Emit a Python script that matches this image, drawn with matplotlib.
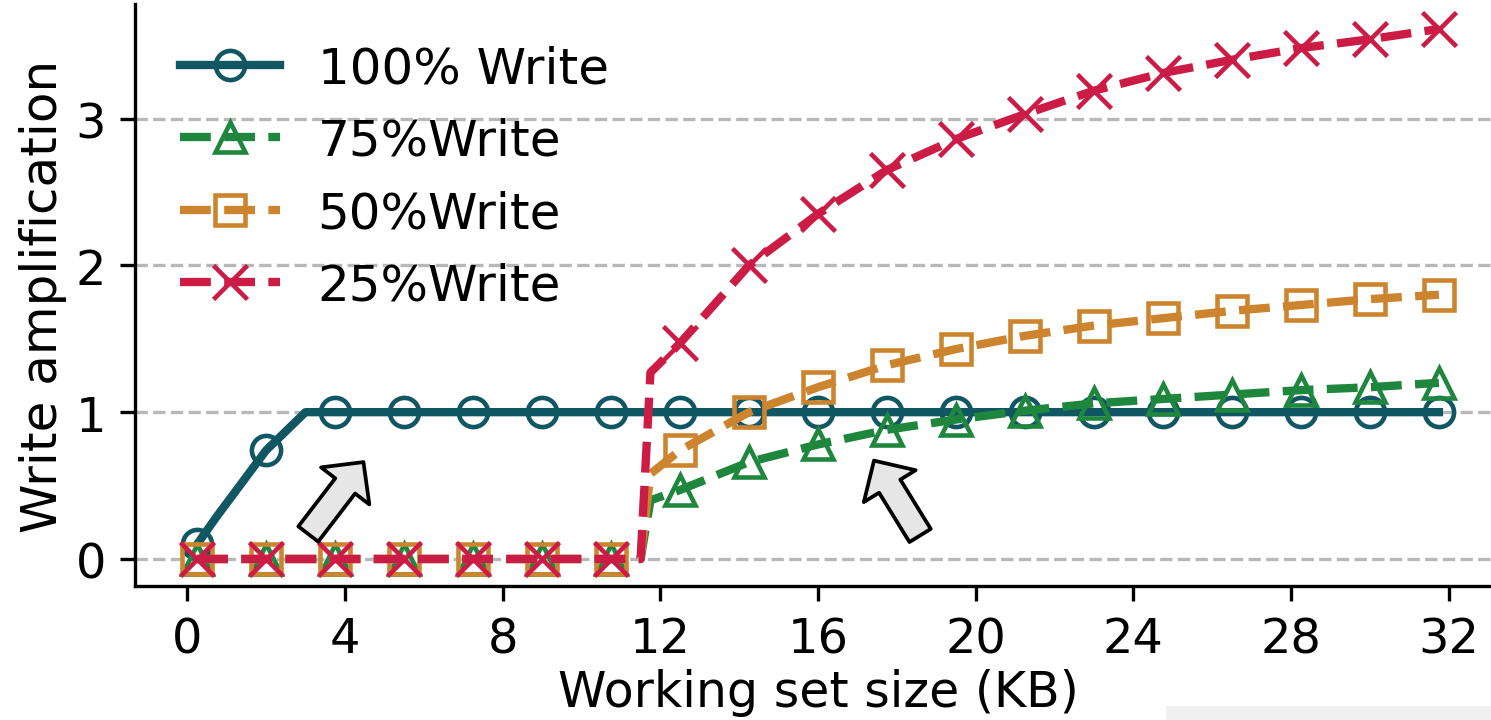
import matplotlib
matplotlib.use("Agg")
import matplotlib.pyplot as plt
from matplotlib.patches import Rectangle

# working set size (KB), sampled every 1.75 KB where markers sit
x_marks = [0.25, 2.0, 3.75, 5.5, 7.25, 9.0, 10.75, 12.5, 14.25, 16.0,
           17.75, 19.5, 21.25, 23.0, 24.75, 26.5, 28.25, 30.0, 31.75]

# 100% write: ramps up then stays flat at 1
x_w100 = [0.25, 0.75, 2.0, 3.0, 3.75, 5.5, 7.25, 9.0, 10.75, 12.5, 14.25, 16.0,
          17.75, 19.5, 21.25, 23.0, 24.75, 26.5, 28.25, 30.0, 31.75]
y_w100 = [0.10, 0.29, 0.74, 1.0, 1.0, 1.0, 1.0, 1.0, 1.0, 1.0, 1.0, 1.0,
          1.0, 1.0, 1.0, 1.0, 1.0, 1.0, 1.0, 1.0, 1.0]

# mixed workloads jump between 11.5 and 11.75 KB
x_mixed = [0.25, 2.0, 3.75, 5.5, 7.25, 9.0, 10.75, 11.5, 11.75, 12.5, 14.25, 16.0,
           17.75, 19.5, 21.25, 23.0, 24.75, 26.5, 28.25, 30.0, 31.75]
y_w75 = [0, 0, 0, 0, 0, 0, 0, 0, 0.40, 0.47, 0.66, 0.78,
         0.88, 0.95, 1.01, 1.06, 1.09, 1.12, 1.15, 1.17, 1.20]
y_w50 = [0, 0, 0, 0, 0, 0, 0, 0, 0.58, 0.74, 1.00, 1.17,
         1.32, 1.43, 1.52, 1.59, 1.64, 1.69, 1.73, 1.77, 1.80]
y_w25 = [0, 0, 0, 0, 0, 0, 0, 0, 1.27, 1.47, 2.00, 2.35,
         2.65, 2.86, 3.03, 3.19, 3.31, 3.40, 3.48, 3.54, 3.61]

labels = ['100% Write', '75%Write', '50%Write', '25%Write']
colors = ['#105663', '#1f873d', '#cc852e', '#cc1c46']


def mark_idx(xs):
    return [i for i, v in enumerate(xs) if v in x_marks]


fig = plt.figure(figsize=(4.97, 2.4033), dpi=300)
ax = fig.add_axes([135 / 1491, 1 - 587 / 721, 1366 / 1491, 582 / 721])

ax.plot(x_w100, y_w100, '-', color=colors[0], lw=2, marker='o', ms=7,
        mfc='none', mew=1.1, markevery=mark_idx(x_w100), label=labels[0])
ax.plot(x_mixed, y_w75, '--', color=colors[1], lw=2, marker='^', ms=7,
        mfc='none', mew=1.1, markevery=mark_idx(x_mixed), label=labels[1])
ax.plot(x_mixed, y_w50, '--', color=colors[2], lw=2, marker='s', ms=7,
        mfc='none', mew=1.1, markevery=mark_idx(x_mixed), label=labels[2])
ax.plot(x_mixed, y_w25, '--', color=colors[3], lw=2, marker='x', ms=8,
        mew=1.1, markevery=mark_idx(x_mixed), label=labels[3])

# gray block arrows pointing at the two transitions
arrow_props = dict(arrowstyle='simple,head_length=0.72,head_width=1.46,tail_width=0.6',
                   mutation_scale=10, fc='#e6e6e6', ec='black', lw=0.9,
                   shrinkA=0, shrinkB=0)
ax.annotate('', xy=(4.47, 0.66), xytext=(3.07, 0.17), arrowprops=arrow_props)
ax.annotate('', xy=(17.42, 0.67), xytext=(18.59, 0.16), arrowprops=arrow_props)

ax.set_xlim(-1.325, 33.325)
ax.set_ylim(-0.184, 3.78)
ax.set_xticks(range(0, 33, 4))
ax.set_yticks([0, 1, 2, 3])
ax.tick_params(labelsize=11.5)
ax.yaxis.grid(True, linestyle='--', lw=0.8, color='#b8b8b8')
ax.set_axisbelow(True)
ax.spines['top'].set_visible(False)
ax.spines['right'].set_visible(False)
ax.set_xlabel('Working set size (KB)', fontsize=11.75, labelpad=1.5)
ax.set_ylabel('Write amplification', fontsize=12, labelpad=2)

ax.legend(loc='upper left', frameon=False, fontsize=12, handlelength=2.0,
          handletextpad=0.75, numpoints=1, labelspacing=0.49,
          bbox_to_anchor=(0.0, 1.008))

fig.patches.append(Rectangle((1168 / 1491, 0), 323 / 1491, 12 / 721,
                             transform=fig.transFigure, color='#f0f0f0', zorder=-1))

fig.savefig('out.png', dpi=300)
